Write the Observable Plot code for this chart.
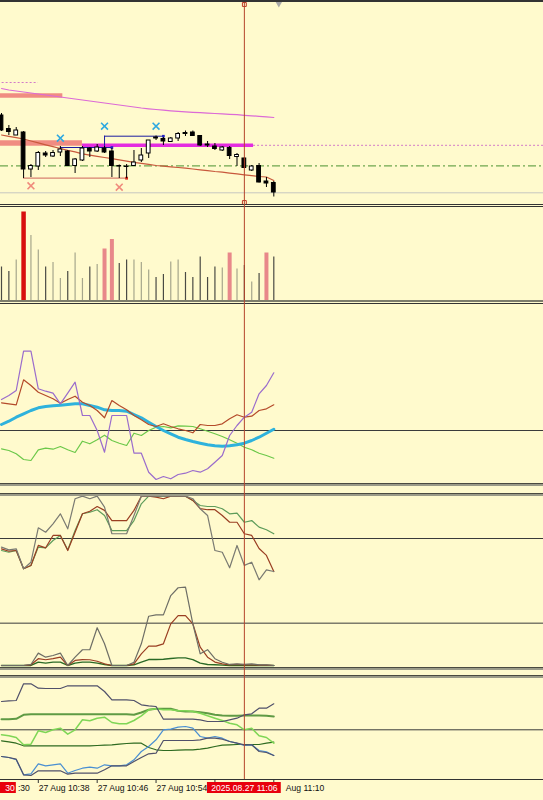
<!DOCTYPE html>
<html><head><meta charset="utf-8">
<script src="https://cdn.jsdelivr.net/npm/d3@7"></script>
<script src="https://cdn.jsdelivr.net/npm/@observablehq/plot@0.6"></script>
<style>
html,body{margin:0;padding:0;background:#fffacd;}
#chart{position:relative;width:543px;height:800px;background:#fffacd;overflow:hidden;font-family:"Liberation Sans",sans-serif;}
#chart svg{display:block;}
.sep{position:absolute;left:0;width:543px;}
</style></head><body><div id="chart"></div>
<script>
// ---------- data ----------
const TIMES = ["10:33","10:34","10:35","10:36","10:37","10:38","10:39","10:40","10:41","10:42","10:43","10:44","10:45","10:46","10:47","10:48","10:49","10:50","10:51","10:52","10:53","10:54","10:55","10:56","10:57","10:58","10:59","11:00","11:01","11:02","11:03","11:04","11:05","11:06","11:07","11:08","11:09","11:10"];
const OPEN  = [1.16685,1.166715,1.16665,1.16668,1.16631,1.16634,1.16647,1.16644,1.16648,1.16649,1.166345,1.16640,1.16652,1.16649,1.16652,1.16649,1.166345,1.16634,1.166345,1.16640,1.16647,1.16663,1.166615,1.166585,1.16662,1.166675,1.16668,1.166645,1.16656,1.16654,1.16650,1.166525,1.166435,1.16642,1.16630,1.166345,1.16619,1.166175];
const HIGH  = [1.16687,1.16675,1.16673,1.16669,1.16636,1.16649,1.16649,1.16650,1.16654,1.16650,1.16642,1.16654,1.16653,1.16656,1.16654,1.16652,1.166355,1.16636,1.16650,1.16652,1.16660,1.166645,1.16663,1.16663,1.16668,1.166695,1.166695,1.16665,1.16659,1.16657,1.16654,1.16654,1.16647,1.16643,1.16635,1.16637,1.16623,1.16619];
const LOW   = [1.16669,1.16665,1.16665,1.16622,1.16623,1.16630,1.16643,1.16643,1.16644,1.16634,1.16627,1.16639,1.16643,1.16648,1.16647,1.16623,1.16622,1.16622,1.16634,1.16638,1.16642,1.16660,1.16655,1.16658,1.16659,1.16664,1.16664,1.16654,1.16653,1.16650,1.16649,1.16641,1.16634,1.16632,1.16629,1.166175,1.16613,1.166035];
const CLOSE = [1.16670,1.166685,1.16670,1.16631,1.166345,1.166475,1.16645,1.166475,1.16651,1.166345,1.16641,1.16652,1.16649,1.16653,1.16648,1.166345,1.16634,1.166335,1.16638,1.16645,1.16660,1.16662,1.16659,1.16662,1.166665,1.166665,1.166645,1.16655,1.16655,1.166515,1.16653,1.166445,1.166455,1.166325,1.16634,1.16618,1.16617,1.16608];
const MA_SLOW = [1.16712,1.167105,1.167095,1.167085,1.167075,1.167065,1.167055,1.167045,1.167035,1.167025,1.167015,1.167005,1.166995,1.166985,1.166975,1.166965,1.166955,1.166945,1.166935,1.166925,1.166917,1.16691,1.166903,1.166897,1.166892,1.166887,1.166882,1.166878,1.166874,1.16687,1.166866,1.166862,1.166858,1.166852,1.166847,1.166842,1.166837,1.16683];
const MA_FAST = [1.166655,1.166642,1.166628,1.166615,1.166595,1.166576,1.166557,1.166539,1.16652,1.166501,1.166486,1.166467,1.166454,1.166442,1.16643,1.166418,1.166406,1.166394,1.166382,1.166372,1.166361,1.16635,1.166344,1.166337,1.16633,1.166323,1.166315,1.166307,1.166299,1.16629,1.166283,1.166274,1.166266,1.166257,1.166249,1.16624,1.166235,1.1662];
const VOL      = [67,58,81,177,130,101,67,76,44,58,95,44,67,72,103,122,74,81,81,76,61,46,52,77,81,56,46,87,46,67,65,95,63,70,37,54,95,87];
const VOL_FLAG = [0,0,0,2,0,0,0,0,0,0,0,0,0,0,1,1,0,0,0,0,0,0,0,0,0,0,0,0,0,0,0,1,0,0,0,0,1,0];
const OSC_PURPLE = [31,35,40,79.3,79.3,41.7,39.3,37.3,26.7,37.3,48.3,15,15,0,-21.7,15,15,15,-22.7,-22.7,-41.7,-49,-46,-48.3,-44,-42.7,-40,-41.7,-38.3,-31.7,-25,-5,5,13.3,18.3,36.7,45,57.7];
const OSC_BROWN  = [27.7,26.7,25.7,50.7,45,38.3,35,31.7,27.3,31,34.3,28.3,25,20,12.7,30,25,20.7,15,10.7,6,4,6.7,4,1.7,0,-2.3,6,5,5,6.7,11.7,15.7,13.3,14.3,20,21.7,25.7];
const OSC_CYAN   = [6,9.3,13.3,16.7,20,22.7,24,24.7,25.3,26,26.7,26.7,25,23.3,20.7,20,20,19.3,16,12.7,8.3,4,0,-3.3,-6.7,-9,-11,-12.7,-14.3,-15.3,-15.7,-15.3,-14.3,-12.7,-10,-6.7,-2.7,1.3];
const OSC_GREEN  = [-18.3,-20,-23.3,-29,-30,-19.3,-17.7,-18.7,-16,-19.3,-22,-10.7,-13.3,-9.3,-4.7,-10,-12.7,-15,-2.7,-5,0,3.3,4,2.7,4.7,4.3,4,1.7,-0.7,-3.3,-6,-9.3,-12.7,-16.7,-19.3,-22.7,-25,-27.7];
const ST_GREY   = [69.9,68.3,68.9,57.1,61.0,81.3,78.7,83.7,89.6,80.7,98.5,100,98.5,100,93.5,77.8,77.8,77.8,88.6,100,100,100,100,100,100,100,98.5,92.6,88.6,67.9,66.9,57.7,70.9,59.1,61.0,50.6,56.5,55.5];
const ST_BROWN  = [68.9,67.5,67.9,57.1,59.1,70.9,69.5,76.8,76.8,67.9,78.7,89.6,91.1,93.9,91.6,85.6,85.6,85.6,91.6,100,100,99.4,98.5,100,100,100,97.5,92.6,92.0,92.0,88.6,84.6,84.6,77.8,76.8,69.1,65.0,55.5];
const ST_GREEN  = [67.9,66.9,67.9,57.1,59.1,69.9,69.5,73.8,76.8,68.3,79.7,89.6,90.5,92.0,88.6,79.7,79.7,79.7,85.6,95.5,100,100,100,100,100,100,97.5,94.5,93.9,93.9,92.6,89.6,90.0,84.6,85.6,81.7,80.2,77.8];
const LO_GREY   = [0,0,0,0,0.6,7.3,4.9,5.9,7.3,0,4.9,9.3,9.3,22.3,12.8,0,0,0,1.9,12.8,29.1,29.9,29.9,41.3,45.9,46.3,24.6,6.9,9.3,4.0,1.9,0.6,1.0,0.6,1.0,0.4,0.4,0];
const LO_BROWN  = [0,0,0,0,0.4,4.0,3.4,4.0,4.9,0,3.0,3.5,3.4,2.5,1.0,0,0,0,1.0,6.9,11.4,11.4,12.8,24.6,29.5,29.5,24.6,10.8,4.9,2.0,1.0,0.4,0.6,0.4,0.4,0.2,0.2,0];
const LO_GREEN  = [0,0,0,0,0,2.0,1.4,2.0,2.0,0,1.4,2.0,2.0,1.4,0.6,0,0,0,0.4,2.0,3.5,3.5,3.7,4.1,4.5,4.5,3.5,1.4,0.6,0.4,0.2,0,0,0,0,0,0,0];
const BB_UP    = [28.3,29,29.3,46,46,41.6,41.3,41.3,41.3,44,44,44,44,44,38.3,30,30,30,29.3,25,24,23.3,10.6,10.6,10.6,10.6,10.6,10,8.3,8.3,8.3,10,11.6,15,16,21.6,21.6,26];
const BB_G1    = [10.6,10.6,11,15,15.6,15.6,15.6,15.6,15.6,15.6,15.6,15.6,15.6,15.6,15.6,15.6,15.6,15.6,15,17.3,20,21,21,21,19,18.3,18.3,17.6,16.6,15,14.3,14,14,14.3,14.3,14.3,14,13.3];
const BB_LG    = [-5,-6,-7.7,-15,-14.4,-1,-2.7,0,1.6,-4.4,0,10,9,11.6,12.6,7.3,6,6,9.3,14,20,21,20,20,19,19,18.3,16.6,14,11.6,9.3,6.6,5,0,1.6,-6,-7.7,-13.4];
const BB_G2    = [-11,-12,-13.4,-16,-16,-16,-16,-16,-16,-16,-16,-16,-16,-15.7,-15.4,-15,-14.4,-13.7,-13.4,-13.4,-17.7,-20,-20.7,-20.7,-20.4,-20,-20,-19.4,-18.4,-16.7,-15.4,-15,-14.7,-14.7,-14.7,-14.7,-13.4,-12.4];
const BB_LOW   = [-26.7,-27.7,-29.4,-45,-45.7,-41,-41,-41,-41,-44.4,-43.4,-43.4,-43.4,-43.4,-40,-36,-36,-36,-31.7,-27.7,-24,-23.4,-10.7,-10.7,-10.7,-10.7,-10.7,-10,-8.4,-8.4,-9.4,-11.7,-13.4,-15,-15,-21.7,-22.7,-25.7];
const BB_BLUE  = [-26.7,-27.7,-30,-45,-44,-34,-36,-35,-34,-43.4,-40.7,-38.4,-37.4,-38.4,-35,-36,-36,-35,-30,-21.7,-16.7,-10,0,0.6,2.6,3.3,1.6,-6.7,-8.4,-6.7,-8.4,-11.7,-13.4,-15.7,-15,-20.7,-22,-25.7];

// price-panel objects
const ZONES   = [{t1:"10:32",t2:"10:41:20",p:1.16705},{t1:"10:32",t2:"10:44",p:1.166575}];
const MAGENTA = [{t1:"10:44",t2:"11:07:15",p:1.166552}];
const DOTTED  = [{t1:"10:32",t2:"10:38",p:1.16718},{t1:"11:07:15",t2:"12:00",p:1.166552}];
const GREEN_LEVEL = 1.166347, GREY_LEVEL = 1.166077;
const BLUE_H = [{t1:"10:47",t2:"10:55",p:1.166643},{t1:"10:41",t2:"10:48",p:1.16653}];
const BLUE_V = [{t:"10:47",p1:1.16653,p2:1.166643}];
const BLUE_END = [{t:"10:55",p:1.166643},{t:"10:48",p:1.16653}];
const SALMON_H = [{t1:"10:36",t2:"10:50",p:1.166223}];
const SALMON_END = [{t:"10:50",p:1.166223}];
const CYAN_X   = [{t:"10:41",p:1.166623},{t:"10:47",p:1.166743},{t:"10:54",p:1.166743}];
const SALMON_X = [{t:"10:37",p:1.166147},{t:"10:49",p:1.166133}];
const CURSOR = "11:06";
const SHIFT_MARK = "11:10:41";
// time axis: fully visible labels, and the visible parts of the labels hidden by the red boxes
const TICK_TIMES  = ["10:30","10:38","10:46","10:54","11:02","11:10"];
const TICK_LABELS = ["27 Aug 10:38","27 Aug 10:46","27 Aug 10:54"];
const LEFT_PART  = ":30";        // tail of "27 Aug 10:30"
const RIGHT_PART = "Aug 11:10";  // tail of "27 Aug 11:10"
const RED_TIMES  = ["10:30","11:06"];
const RED_LABELS = ["30","2025.08.27 11:06"];

// ---------- helpers ----------
const FONT = "Liberation Sans", FS = 8.6;
const T = s => new Date(`2025-08-27T${s.length === 5 ? s + ":00" : s}Z`);
const bars = TIMES.map((s, i) => ({
  t: T(s), open: OPEN[i], high: HIGH[i], low: LOW[i], close: CLOSE[i],
  maS: MA_SLOW[i], maF: MA_FAST[i], vol: VOL[i], flag: VOL_FLAG[i],
  oP: OSC_PURPLE[i], oB: OSC_BROWN[i], oC: OSC_CYAN[i], oG: OSC_GREEN[i],
  sGr: ST_GREY[i], sBr: ST_BROWN[i], sGn: ST_GREEN[i],
  lGr: LO_GREY[i], lBr: LO_BROWN[i], lGn: LO_GREEN[i],
  bUp: BB_UP[i], bG1: BB_G1[i], bLG: BB_LG[i], bG2: BB_G2[i], bLo: BB_LOW[i], bBl: BB_BLUE[i]
}));
const seg = a => a.map(d => ({...d, t1: T(d.t1), t2: T(d.t2)}));
const pts = a => a.map(d => ({...d, t: T(d.t)}));
const chart = document.getElementById("chart");
const X = {type: "utc", domain: [T(TIMES[0]), T(TIMES[TIMES.length - 1])], range: [1, 273.3], axis: null};
const lo = d => new Date(+d.t - 30000), hi = d => new Date(+d.t + 30000);

function addPlot(top, height, marks, opts = {}) {
  const svg = Plot.plot({
    width: 543, height, marginTop: 0, marginRight: 0, marginBottom: 0, marginLeft: 0,
    x: X, style: {background: "transparent", overflow: "visible", fontFamily: FONT},
    marks, ...opts
  });
  svg.style.position = "absolute"; svg.style.left = "0px"; svg.style.top = top + "px";
  chart.appendChild(svg);
}
function sep(top, h, color) {
  const d = document.createElement("div");
  d.className = "sep"; d.style.top = top + "px"; d.style.height = h + "px"; d.style.background = color;
  chart.appendChild(d);
}

// ---------- price panel ----------
const up = d => d.close >= d.open;
const Z = seg(ZONES);
addPlot(2, 202, [
  Plot.ruleY([GREY_LEVEL], {stroke: "#c6c6c0", strokeWidth: 1}),
  Plot.ruleY([GREEN_LEVEL], {stroke: "#6fa64f", strokeWidth: 1.3, strokeDasharray: "8,3,2,3"}),
  Plot.ruleY([Z[0]], {x1: "t1", x2: "t2", y: "p", stroke: "#f08c82", strokeWidth: 4.5}),
  Plot.ruleY([Z[1]], {x1: "t1", x2: "t2", y: "p", stroke: "#f08c82", strokeWidth: 5.5}),
  Plot.ruleY(seg(DOTTED), {x1: "t1", x2: "t2", y: "p", stroke: "#d27ac8", strokeWidth: 1, strokeDasharray: "2,2"}),
  Plot.line(bars, {x: "t", y: "maS", stroke: "#dc6ad6", strokeWidth: 1.2}),
  Plot.ruleY(seg(MAGENTA), {x1: "t1", x2: "t2", y: "p", stroke: "#e42ce0", strokeWidth: 3.5}),
  Plot.line(bars, {x: "t", y: "maF", stroke: "#c8583c", strokeWidth: 1.2}),
  Plot.ruleY(seg(SALMON_H), {x1: "t1", x2: "t2", y: "p", stroke: "#d88070", strokeWidth: 1.2}),
  Plot.dot(pts(SALMON_END), {x: "t", y: "p", symbol: "square", r: 1.6, fill: "#d42a1a"}),
  Plot.ruleY(seg(BLUE_H), {x1: "t1", x2: "t2", y: "p", stroke: "#1c1ca0", strokeWidth: 1}),
  Plot.ruleX(pts(BLUE_V), {x: "t", y1: "p1", y2: "p2", stroke: "#1c1ca0", strokeWidth: 1}),
  Plot.dot(pts(BLUE_END), {x: "t", y: "p", symbol: "square", r: 1.5, fill: "#2020c0"}),
  Plot.ruleX(bars, {x: "t", y1: "low", y2: "high", stroke: "#000", strokeWidth: 1}),
  Plot.rect(bars, {filter: d => !up(d), x1: lo, x2: hi, y1: "open", y2: "close", insetLeft: 1.8, insetRight: 1.8, fill: "#000", stroke: "#000", strokeWidth: 1}),
  Plot.rect(bars, {filter: up, x1: lo, x2: hi, y1: "open", y2: "close", insetLeft: 1.8, insetRight: 1.8, fill: "#fff", stroke: "#000", strokeWidth: 1}),
  Plot.dot(pts(CYAN_X), {x: "t", y: "p", symbol: "times", r: 3.2, stroke: "#2ea8e0", strokeWidth: 1.6}),
  Plot.dot(pts(SALMON_X), {x: "t", y: "p", symbol: "times", r: 3.2, stroke: "#f08a7c", strokeWidth: 1.6}),
  Plot.dot([T(CURSOR)], {x: d => d, frameAnchor: "top", dy: 2, symbol: "square", r: 2.2, fill: "#fffacd", stroke: "#c03a28", strokeWidth: 1}),
  Plot.dot([T(CURSOR)], {x: d => d, frameAnchor: "bottom", dy: -2, symbol: "square", r: 2.2, fill: "#fffacd", stroke: "#c03a28", strokeWidth: 1}),
  Plot.dot([T(SHIFT_MARK)], {x: d => d, frameAnchor: "top", dy: 0, symbol: "triangle", rotate: 180, r: 3.2, fill: "#a8a8a8"})
], {y: {domain: [1.16596, 1.16798], axis: null}});

// ---------- volume panel ----------
addPlot(207, 93, [
  Plot.ruleX(bars, {filter: d => d.flag === 0 && up(d), x: "t", y1: 0, y2: "vol", stroke: "#a6a68c", strokeWidth: 1.2}),
  Plot.ruleX(bars, {filter: d => d.flag === 0 && !up(d), x: "t", y1: 0, y2: "vol", stroke: "#4a4a44", strokeWidth: 1.2}),
  Plot.ruleX(bars, {filter: d => d.flag === 1, x: "t", y1: 0, y2: "vol", stroke: "#e8888a", strokeWidth: 4}),
  Plot.ruleX(bars, {filter: d => d.flag === 2, x: "t", y1: 0, y2: "vol", stroke: "#d80e0e", strokeWidth: 4.5})
], {y: {domain: [0, 186], axis: null}});

// ---------- oscillator panel ----------
addPlot(305, 178, [
  Plot.ruleY([0], {stroke: "#3a3a3a", strokeWidth: 1}),
  Plot.line(bars, {x: "t", y: "oG", stroke: "#6cc84a", strokeWidth: 1.2}),
  Plot.line(bars, {x: "t", y: "oC", stroke: "#2eb2dc", strokeWidth: 3}),
  Plot.line(bars, {x: "t", y: "oB", stroke: "#b44a2a", strokeWidth: 1.2}),
  Plot.line(bars, {x: "t", y: "oP", stroke: "#9a6ccc", strokeWidth: 1.2})
], {y: {domain: [-53, 125], axis: null}});

// ---------- stochastic-like panel ----------
addPlot(495, 171, [
  Plot.ruleY([25, 75], {stroke: "#3a3a3a", strokeWidth: 1}),
  Plot.line(bars, {x: "t", y: "sGn", stroke: "#5e9c5a", strokeWidth: 1.2}),
  Plot.line(bars, {x: "t", y: "sBr", stroke: "#9a3e22", strokeWidth: 1.2}),
  Plot.line(bars, {x: "t", y: "sGr", stroke: "#7a7a72", strokeWidth: 1.2}),
  Plot.line(bars, {x: "t", y: "lGn", stroke: "#2a6a26", strokeWidth: 1.4}),
  Plot.line(bars, {x: "t", y: "lBr", stroke: "#9a3e22", strokeWidth: 1.2}),
  Plot.line(bars, {x: "t", y: "lGr", stroke: "#6e6e66", strokeWidth: 1.2})
], {y: {domain: [-0.6, 100.4], axis: null}});

// ---------- band panel ----------
addPlot(677, 102, [
  Plot.ruleY([0], {stroke: "#3a3a3a", strokeWidth: 1}),
  Plot.line(bars, {x: "t", y: "bG1", stroke: "#5f9a44", strokeWidth: 2}),
  Plot.line(bars, {x: "t", y: "bG2", stroke: "#2e6a20", strokeWidth: 1.2}),
  Plot.line(bars, {x: "t", y: "bBl", stroke: "#4a8fd2", strokeWidth: 1.2}),
  Plot.line(bars, {x: "t", y: "bLG", stroke: "#7fd656", strokeWidth: 1.5}),
  Plot.line(bars, {x: "t", y: "bUp", stroke: "#50506a", strokeWidth: 1.2}),
  Plot.line(bars, {x: "t", y: "bLo", stroke: "#50506a", strokeWidth: 1.2})
], {y: {domain: [-49.7, 52.3], axis: null}});

// ---------- time axis ----------
const tickT = TICK_TIMES.map(T);
const full = TICK_LABELS.map((l, i) => ({t: tickT[i + 1], label: l}));
const reds = RED_TIMES.map((s, i) => ({t: T(s), label: RED_LABELS[i]}));
const boxHalf = 301000;
const txt = {dy: -1.5, fontSize: FS, fontFamily: FONT};
addPlot(779, 21, [
  Plot.frame({anchor: "top", stroke: "#333"}),
  Plot.ruleX(tickT, {x: d => d, insetBottom: 17, stroke: "#333"}),
  Plot.text(full, {x: "t", text: "label", textAnchor: "start", dx: 0.5, fill: "#111", ...txt}),
  Plot.text([tickT[0]], {x: d => d, text: () => LEFT_PART, textAnchor: "start", dx: 38.5, fill: "#111", ...txt}),
  Plot.text([tickT[5]], {x: d => d, text: () => RIGHT_PART, textAnchor: "start", dx: 12, fill: "#111", ...txt}),
  Plot.rect(reds, {x1: d => new Date(+d.t - boxHalf), x2: d => new Date(+d.t + boxHalf), insetTop: 3, insetBottom: 7, fill: "#e8000c"}),
  Plot.text([reds[0]], {x: d => new Date(+d.t + boxHalf), text: "label", textAnchor: "end", dx: -1.5, fill: "#fff", ...txt}),
  Plot.text([reds[1]], {x: "t", text: "label", textAnchor: "middle", fill: "#fff", ...txt})
]);

// ---------- window borders ----------
sep(0, 2, "#333");
sep(204, 1, "#333"); sep(206, 1, "#333");
sep(300, 2, "#7d7d6c"); sep(303, 1, "#333");
sep(483, 1, "#4a4a40"); sep(484, 2, "#9a9a88");
sep(493, 1, "#4a4a40"); sep(494, 2, "#9a9a88");
sep(667, 1, "#4a4a40"); sep(668, 2, "#9a9a88");
sep(675, 1, "#4a4a40"); sep(676, 2, "#9a9a88");

// ---------- cursor line ----------
addPlot(0, 800, [
  Plot.ruleX([T(CURSOR)], {x: d => d, stroke: "#b4442c", strokeWidth: 1})
], {marginTop: 2, marginBottom: 21});
</script></body></html>
